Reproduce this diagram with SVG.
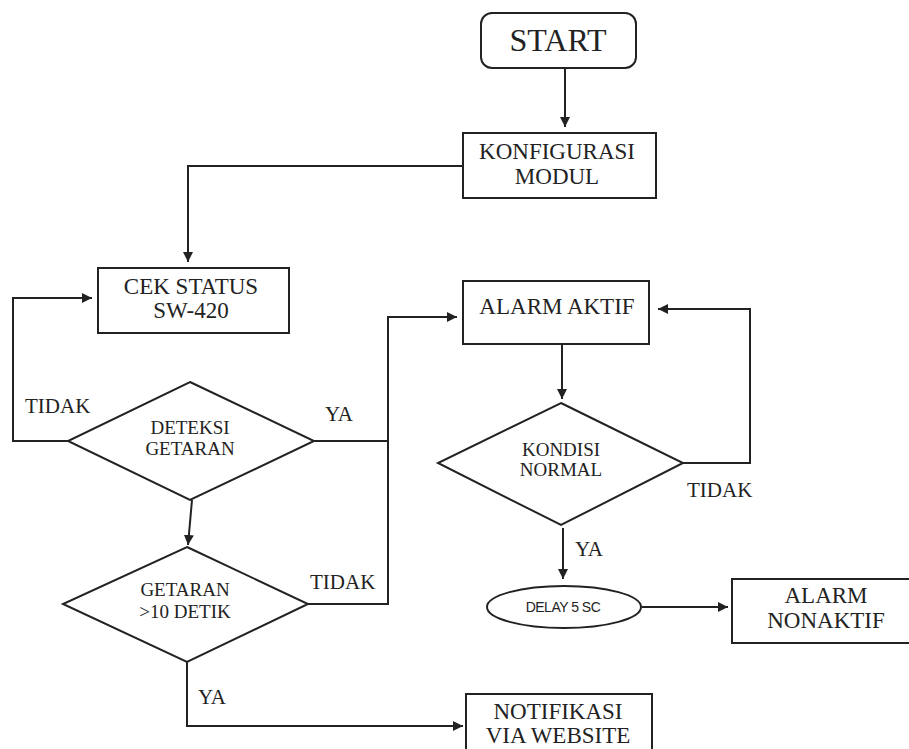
<svg xmlns="http://www.w3.org/2000/svg" width="909" height="749" viewBox="0 0 909 749">
<style>
.s{fill:#fff;stroke:#222;stroke-width:2}
.c{fill:none;stroke:#222;stroke-width:2}
.t{font-family:"Liberation Serif","Times New Roman",serif;fill:#222;text-anchor:middle}
.b{font-size:23px}
.d{font-size:19px}
.l{font-family:"Liberation Serif","Times New Roman",serif;fill:#222;font-size:21px}
</style>
<defs>
<marker id="a" viewBox="0 0 10 10" refX="10" refY="5" markerWidth="5" markerHeight="5" orient="auto" markerUnits="strokeWidth">
<path d="M0,0 L10,5 L0,10 z" fill="#222"/>
</marker>
</defs>
<rect width="909" height="749" fill="#fff"/>
<g id="connectors">
<path class="c" d="M565,68 V127" marker-end="url(#a)"/>
<path class="c" d="M463,166 H188 V262" marker-end="url(#a)"/>
<path class="c" d="M68,441 H13 V298 H92" marker-end="url(#a)"/>
<path class="c" d="M314,441 H388"/>
<path class="c" d="M308,604 H388 V317 H457" marker-end="url(#a)"/>
<path class="c" d="M192,500 L188,545" marker-end="url(#a)"/>
<path class="c" d="M562,344 V399" marker-end="url(#a)"/>
<path class="c" d="M683,463 H750 V309 H658" marker-end="url(#a)"/>
<path class="c" d="M563,528 V579" marker-end="url(#a)"/>
<path class="c" d="M642,607 H728" marker-end="url(#a)"/>
<path class="c" d="M187,662 V726 H463" marker-end="url(#a)"/>
</g>
<g id="start">
<rect class="s" x="481" y="13" width="155" height="55" rx="11"/>
<text class="t" x="558" y="51" font-size="32">START</text>
</g>
<g id="konfigurasi">
<rect class="s" x="463" y="133" width="193" height="65"/>
<text class="t b" x="557" y="159">KONFIGURASI</text>
<text class="t b" x="557" y="184">MODUL</text>
</g>
<g id="cek-status">
<rect class="s" x="98" y="268" width="191" height="65"/>
<text class="t b" x="191" y="294">CEK STATUS</text>
<text class="t b" x="191" y="318">SW-420</text>
</g>
<g id="deteksi">
<polygon class="s" points="190,382 314,441 190,500 68,441"/>
<text class="t d" x="190" y="434">DETEKSI</text>
<text class="t d" x="190" y="455">GETARAN</text>
</g>
<g id="getaran10">
<polygon class="s" points="187,547 308,604 187,662 63,604"/>
<text class="t d" x="185" y="596">GETARAN</text>
<text class="t d" x="185" y="618">&gt;10 DETIK</text>
</g>
<g id="alarm-aktif">
<rect class="s" x="463" y="281" width="186" height="63"/>
<text class="t b" x="557" y="314">ALARM AKTIF</text>
</g>
<g id="kondisi">
<polygon class="s" points="561,403 683,463 561,525 438,463"/>
<text class="t d" x="561" y="456">KONDISI</text>
<text class="t d" x="561" y="476">NORMAL</text>
</g>
<g id="delay">
<ellipse class="s" cx="564" cy="607" rx="77" ry="21"/>
<text x="563" y="612" font-family="'Liberation Sans',Arial,sans-serif" font-size="14" fill="#222" text-anchor="middle" letter-spacing="-0.5">DELAY 5 SC</text>
</g>
<g id="alarm-nonaktif">
<rect class="s" x="732" y="579" width="190" height="64"/>
<text class="t b" x="826" y="603">ALARM</text>
<text class="t b" x="826" y="628">NONAKTIF</text>
</g>
<g id="notifikasi">
<rect class="s" x="466" y="694" width="186" height="70"/>
<text class="t b" x="558" y="719">NOTIFIKASI</text>
<text class="t b" x="558" y="743">VIA WEBSITE</text>
</g>
<g id="labels">
<text class="l" x="25" y="413">TIDAK</text>
<text class="l" x="325" y="421">YA</text>
<text class="l" x="310" y="589">TIDAK</text>
<text class="l" x="198" y="704">YA</text>
<text class="l" x="687" y="497">TIDAK</text>
<text class="l" x="575" y="556">YA</text>
</g>
</svg>
